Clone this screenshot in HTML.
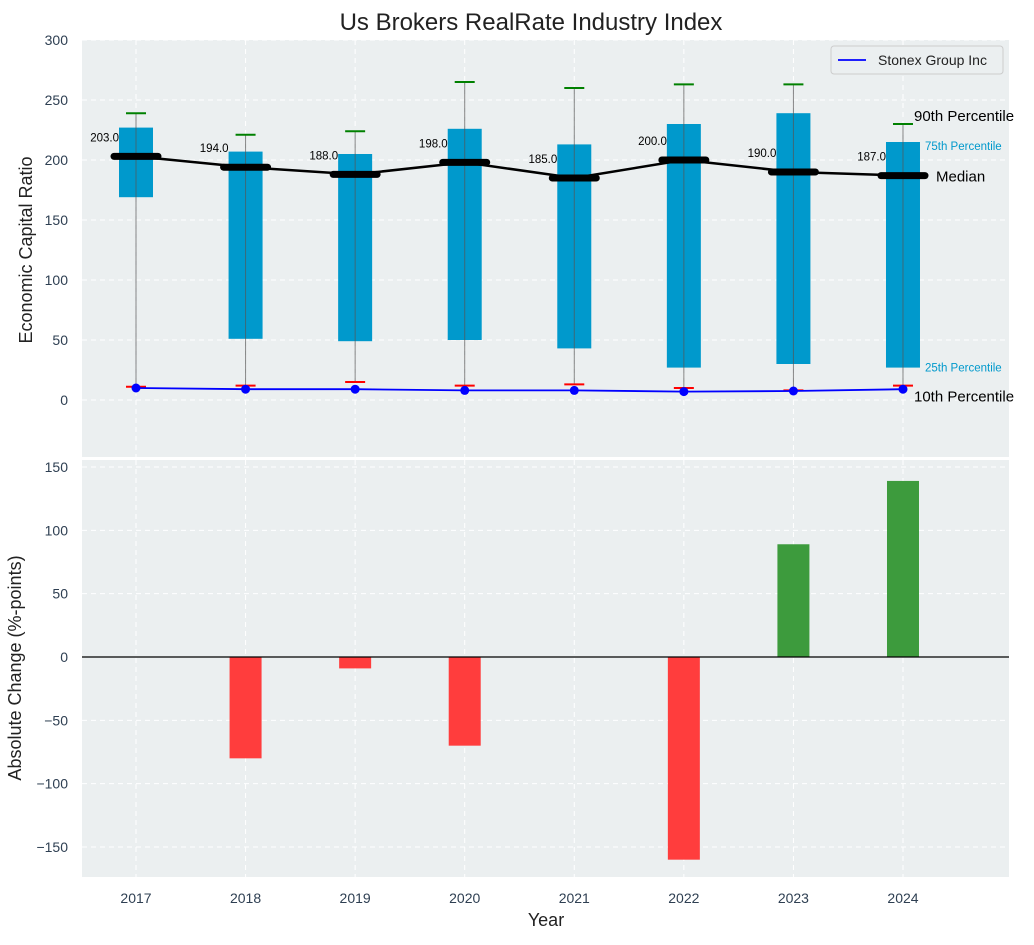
<!DOCTYPE html>
<html><head><meta charset="utf-8"><style>
body{margin:0;background:#fff;font-family:"Liberation Sans",sans-serif;}
svg text{font-family:"Liberation Sans",sans-serif;}
</style></head><body>
<svg id="c" width="1034" height="940" xmlns="http://www.w3.org/2000/svg"></svg>
<script>
const years=[2017,2018,2019,2020,2021,2022,2023,2024];
const p10=[11,12,15,12,13,10,8,12];
const p25=[169,51,49,50,43,27,30,27];
const median=[203,194,188,198,185,200,190,187];
const p75=[227,207,205,226,213,230,239,215];
const p90=[239,221,224,265,260,263,263,230];
const company=[10,9,9,8,8,7,7.5,9];
const change=[0,-80,-9,-70,0,-160,89,139];
const topTicks=[0,50,100,150,200,250,300];
const botTicks=[-150,-100,-50,0,50,100,150];

const svg=document.getElementById('c');
const NS='http://www.w3.org/2000/svg';
function el(t,a,txt){const e=document.createElementNS(NS,t);for(const k in a)e.setAttribute(k,a[k]);if(txt!==undefined)e.textContent=txt;svg.appendChild(e);return e;}
const L=82,R=1009;
const X=v=>136+(v-2017)*109.57;
const Y1=v=>400-v*1.2;
const Y2=v=>657-v*1.2667;
let e=el('rect',{x:L,y:40,width:R-L,height:417,fill:'#ebeff0'});

e=el('rect',{x:L,y:460,width:R-L,height:417,fill:'#ebeff0'});

topTicks.forEach(t=>{e=el('line',{x1:L,x2:R,y1:Y1(t),y2:Y1(t),stroke:'#fff','stroke-dasharray':'5,4'});

e=el('text',{x:68,y:Y1(t)+5,'text-anchor':'end','font-size':14,fill:'#2e3f52'},t);
});
botTicks.forEach(t=>{e=el('line',{x1:L,x2:R,y1:Y2(t),y2:Y2(t),stroke:'#fff','stroke-dasharray':'5,4'});

e=el('text',{x:68,y:Y2(t)+5,'text-anchor':'end','font-size':14,fill:'#2e3f52'},t<0?'\u2212'+(-t):t);
});
years.forEach(y=>{[[40,457],[460,877]].forEach(r=>{e=el('line',{x1:X(y),x2:X(y),y1:r[0],y2:r[1],stroke:'#fff','stroke-dasharray':'5,4'});
});
e=el('text',{x:X(y),y:903,'text-anchor':'middle','font-size':14,fill:'#2e3f52'},y);
});
years.forEach((y,i)=>{const cx=X(y);
e=el('rect',{x:cx-17,y:Y1(p75[i]),width:34,height:Y1(p25[i])-Y1(p75[i]),fill:'#0099cc'});

e=el('line',{x1:cx,x2:cx,y1:Y1(p90[i]),y2:Y1(p10[i]),stroke:'#555','stroke-width':1,opacity:0.7});

e=el('line',{x1:cx-10,x2:cx+10,y1:Y1(p90[i]),y2:Y1(p90[i]),stroke:'green','stroke-width':2});

e=el('line',{x1:cx-10,x2:cx+10,y1:Y1(p10[i]),y2:Y1(p10[i]),stroke:'red','stroke-width':2});

});
e=el('polyline',{points:years.map((y,i)=>X(y)+','+Y1(median[i])).join(' '),fill:'none',stroke:'#000','stroke-width':2.5});

years.forEach((y,i)=>{const cx=X(y);
e=el('line',{x1:cx-22,x2:cx+22,y1:Y1(median[i]),y2:Y1(median[i]),stroke:'#000','stroke-width':7,'stroke-linecap':'round'});

e=el('text',{x:cx-17,y:Y1(median[i])-15,'text-anchor':'end','font-size':11.5,fill:'#000'},median[i].toFixed(1));
});
e=el('polyline',{points:years.map((y,i)=>X(y)+','+Y1(company[i])).join(' '),fill:'none',stroke:'#0000ff','stroke-width':1.8});

years.forEach((y,i)=>{e=el('circle',{cx:X(y),cy:Y1(company[i]),r:4.5,fill:'#0000ff'});
});
const lx=X(2024);
e=el('text',{x:lx+11,y:Y1(p90[7])-3,'font-size':15,fill:'#000'},'90th Percentile');
e=el('text',{x:lx+22,y:Y1(p75[7])+8,'font-size':11.5,fill:'#0099cc'},'75th Percentile');
e=el('text',{x:lx+33,y:Y1(median[7])+6,'font-size':15,fill:'#000'},'Median');
e=el('text',{x:lx+22,y:Y1(p25[7])+4,'font-size':11.5,fill:'#0099cc'},'25th Percentile');
e=el('text',{x:lx+11,y:Y1(p10[7])+16,'font-size':15,fill:'#000'},'10th Percentile');
e=el('rect',{x:831,y:46,width:172,height:28,rx:3,fill:'#ebeff0',stroke:'#ccc'});
e=el('line',{x1:838,x2:866,y1:60,y2:60,stroke:'#0000ff','stroke-width':1.8});
e=el('text',{x:878,y:65,'font-size':14,fill:'#222'},'Stonex Group Inc');
years.forEach((y,i)=>{const v=change[i];if(v===0)return;
e=el('rect',{x:X(y)-16,y:Math.min(Y2(v),Y2(0)),width:32,height:Math.abs(Y2(v)-Y2(0)),fill:v>0?'#3d9b3d':'#ff3d3d'});
});
e=el('line',{x1:L,x2:R,y1:Y2(0),y2:Y2(0),stroke:'#000','stroke-width':1.2});
e=el('text',{x:531,y:30,'text-anchor':'middle','font-size':24,fill:'#222'},'Us Brokers RealRate Industry Index');
e=el('text',{x:32,y:250,'text-anchor':'middle','font-size':18,fill:'#222',transform:'rotate(-90 32 250)'},'Economic Capital Ratio');
e=el('text',{x:21,y:668,'text-anchor':'middle','font-size':18,fill:'#222',transform:'rotate(-90 21 668)'},'Absolute Change (%-points)');
e=el('text',{x:546,y:926,'text-anchor':'middle','font-size':18,fill:'#222'},'Year');
</script>
</body></html>
